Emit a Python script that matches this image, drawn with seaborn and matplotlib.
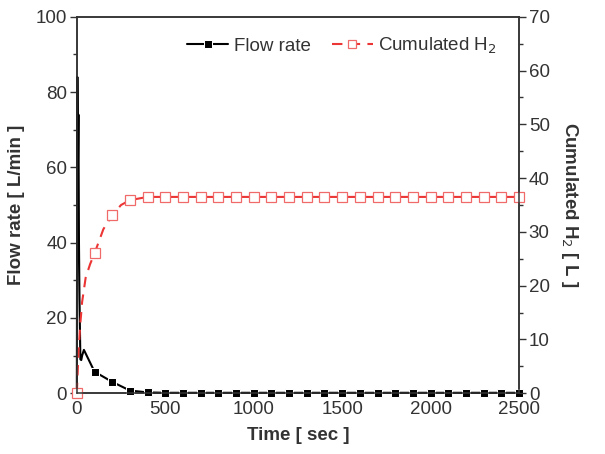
import matplotlib
matplotlib.use("Agg")
import matplotlib.pyplot as plt
import seaborn as sns
import numpy as np
from matplotlib.ticker import MultipleLocator

sns.set_style("ticks")
plt.rcParams['font.family'] = ['Liberation Sans', 'DejaVu Sans']

# flow rate [L/min] vs time [s]
flow_t = [0, 3, 6, 9, 12, 15, 20, 25, 30, 40, 100, 200, 300, 400, 500, 600, 700, 800, 900,
          1000, 1100, 1200, 1300, 1400, 1500, 1600, 1700, 1800, 1900, 2000, 2100, 2200,
          2300, 2400, 2500]
flow_v = [0, 84, 60, 74, 40, 25, 9, 8.8, 10, 11.5, 5.7, 3.0, 0.7, 0.2, 0.1, 0.1, 0.1, 0.1, 0.1,
          0.1, 0.1, 0.1, 0.1, 0.1, 0.1, 0.1, 0.1, 0.1, 0.1, 0.1, 0.1, 0.1,
          0.1, 0.1, 0.1]

# cumulated H2 [L]
cum_t = [0, 10, 20, 30, 50, 75, 100, 150, 200, 250, 300, 400, 500, 600, 700, 800, 900, 1000,
         1100, 1200, 1300, 1400, 1500, 1600, 1700, 1800, 1900, 2000, 2100, 2200, 2300,
         2400, 2500]
cum_v = [0, 8, 13, 17, 21.5, 24, 26, 30.5, 33.1, 35, 35.9, 36.5, 36.5, 36.5, 36.5, 36.5, 36.5,
         36.5, 36.5, 36.5, 36.5, 36.5, 36.5, 36.5, 36.5, 36.5, 36.5, 36.5, 36.5, 36.5,
         36.5, 36.5, 36.5]

flow_marks = [i for i, t in enumerate(flow_t) if t >= 100]
cum_marks = [i for i, t in enumerate(cum_t) if t % 100 == 0]

fig, ax = plt.subplots(figsize=(6.05, 4.54), dpi=100)
fig.subplots_adjust(left=0.127, right=0.858, bottom=0.134, top=0.963)
ax2 = ax.twinx()

sns.lineplot(x=flow_t, y=flow_v, ax=ax, color='black', lw=1.5, marker='s', ms=6,
             markevery=flow_marks, label='Flow rate', legend=False, clip_on=False, zorder=5)
sns.lineplot(x=cum_t, y=cum_v, ax=ax2, color='#ec3535', lw=1.5, ls=(0, (5, 3.5)),
             marker='s', ms=7, mfc='white', mec='#f06a6a', mew=0.9,
             markevery=cum_marks, label='Cumulated H$_2$', legend=False, clip_on=False)

ax.set_xlim(0, 2500)
ax.set_ylim(0, 100)
ax2.set_ylim(0, 70)
ax.xaxis.set_major_locator(MultipleLocator(500))
ax.yaxis.set_major_locator(MultipleLocator(20))
ax.yaxis.set_minor_locator(MultipleLocator(10))
ax2.yaxis.set_major_locator(MultipleLocator(10))
ax2.yaxis.set_minor_locator(MultipleLocator(5))

txt = '#333333'
fs = 13.5
for a in (ax, ax2):
    for s in a.spines.values():
        s.set_visible(True)
        s.set_color('#333333')
        s.set_linewidth(1.1)
    a.tick_params(which='major', length=5, width=1, color='#333333', labelsize=fs,
                  labelcolor=txt, pad=2)
    a.tick_params(which='minor', length=3, width=1, color='#333333')
ax.tick_params(axis='x', length=0, pad=6)

ax.set_xlabel('Time [ sec ]', fontsize=fs, fontweight='bold', color=txt, labelpad=6)
ax.set_ylabel('Flow rate [ L/min ]', fontsize=fs, fontweight='bold', color=txt, labelpad=8)
ax2.set_ylabel('Cumulated H$_2$ [ L ]', fontsize=fs, fontweight='bold', color=txt,
               rotation=270, labelpad=22)

h1, l1 = ax.get_legend_handles_labels()
h2, l2 = ax2.get_legend_handles_labels()
leg = ax2.legend(h1 + h2, l1 + l2, loc='upper center', bbox_to_anchor=(0.6, 0.995), ncol=2,
                 frameon=False, fontsize=fs, handlelength=2.2, columnspacing=1.1,
                 handletextpad=0.3, markerscale=0.85)
for t in leg.get_texts():
    t.set_color(txt)

fig.savefig('out.png', dpi=100)
